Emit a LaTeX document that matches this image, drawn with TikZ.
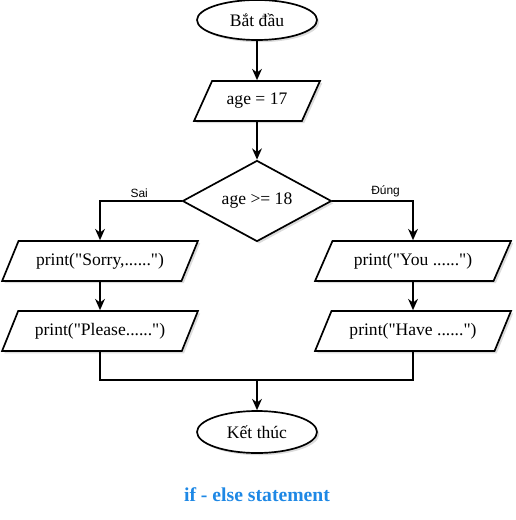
\documentclass[tikz,border=0pt]{standalone}
\usepackage{fontspec}
\setmainfont{Liberation Serif}[Ligatures=TeXOff]
\newfontfamily\lblfont{Liberation Sans}
\usepackage{tikz}
\usetikzlibrary{
    shapes.geometric, arrows.meta, positioning,
    calc, shadows
}
\definecolor{cTitle}{HTML}{1E88E5}
\definecolor{cShadow}{HTML}{9A9A9A}

\begin{document}
\begin{tikzpicture}[font=\fontsize{12.5}{15}\selectfont,
        line width=1.2pt,
        shade box/.style={drop shadow={shadow xshift=1.6pt, shadow yshift=-1.6pt,
            fill=cShadow, opacity=0.35}},
        terminal/.style={ellipse, draw, fill=white, shade box,
            minimum width=3cm, minimum height=1cm, inner sep=1pt},
        io/.style={trapezium, trapezium left angle=55, trapezium right angle=125,
            trapezium stretches=true, draw, fill=white, shade box,
            minimum height=1cm, inner sep=1pt},
        decision/.style={diamond, draw, fill=white, shade box, shape aspect=1.84,
            minimum width=3.725cm, minimum height=2.025cm, inner sep=1pt},
        flow/.style={-{Stealth[length=8pt, width=7pt]}},
        branchlbl/.style={font=\lblfont\fontsize{8.5}{10}\selectfont, inner sep=2pt}
    ]
        \useasboundingbox (0,0) rectangle (12.875,-13);

        % main column
        \node[terminal] (start) at (6.425,-0.5) {Bắt đầu};
        \node[io, minimum width=3.15cm] (init) at (6.425,-2.525) {age = 17};
        \node[decision] (check) at (6.425,-5.025) {age >= 18};

        % branches
        \node[io, minimum width=4.9cm] (sorry) at (2.5,-6.525) {print("Sorry,......")};
        \node[io, minimum width=4.9cm] (please) at (2.5,-8.275) {print("Please......")};
        \node[io, minimum width=4.9cm] (you) at (10.325,-6.525) {print("You ......")};
        \node[io, minimum width=4.9cm] (have) at (10.325,-8.275) {print("Have ......")};

        \node[terminal, minimum height=1.05cm] (stop) at (6.425,-10.8) {Kết thúc};
        \coordinate (join) at (6.425,-9.5);

        % connectors
        \draw[flow] (start) -- (init);
        \draw[flow] (init) -- (check);
        \draw[flow] (check.west) -| node[branchlbl, above, pos=0.26] {Sai} (sorry.north);
        \draw[flow] (check.east) -| node[branchlbl, above, pos=0.33] {Đúng} (you.north);
        \draw[flow] (sorry) -- (please);
        \draw[flow] (you) -- (have);
        \draw (please.south) |- (join) -| (have.south);
        \draw[flow] (join) -- (stop);

        \node[font=\bfseries\fontsize{14}{17}\selectfont, text=cTitle] (title) at (6.425,-12.375) {if - else statement};
    \end{tikzpicture}
\end{document}
